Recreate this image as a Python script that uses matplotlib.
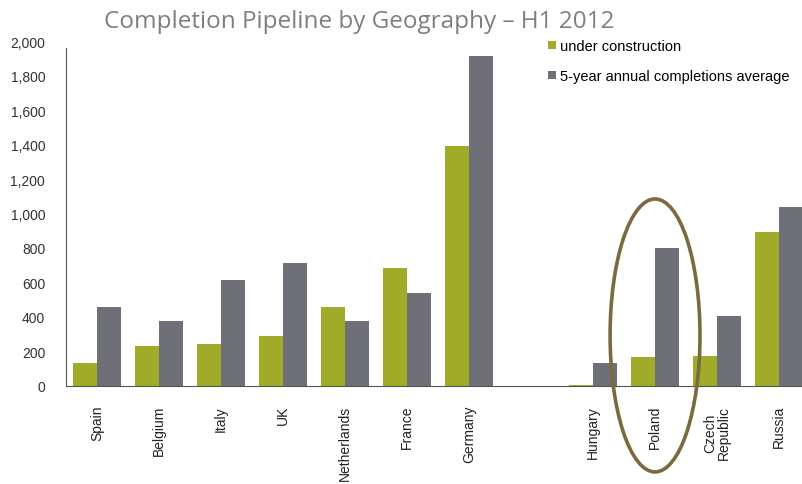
import matplotlib.pyplot as plt
from matplotlib.patches import Ellipse
from matplotlib.ticker import FuncFormatter

# values (sq m thousands, H1 2012)
countries = ["Spain", "Belgium", "Italy", "UK", "Netherlands", "France", "Germany",
             "", "Hungary", "Poland", "Czech\nRepublic", "Russia"]
under_construction = [129, 231, 241, 290, 458, 681, 1394, 0, 5, 164, 173, 894]
five_year_avg = [458, 377, 615, 710, 377, 536, 1917, 0, 129, 798, 406, 1036]
yticks = [0, 200, 400, 600, 800, 1000, 1200, 1400, 1600, 1800, 2000]

green = "#a0ab2a"
grey = "#6e6f77"
ring = "#7b6a3e"

fig = plt.figure(figsize=(8.02, 4.85), dpi=100)
ax = fig.add_axes([66 / 802, 98.5 / 485, 736 / 802, 344 / 485])

w = 0.39
x = list(range(len(countries)))
ax.bar([i - w / 2 for i in x], under_construction, width=w, color=green,
       label="under construction")
ax.bar([i + w / 2 for i in x], five_year_avg, width=w, color=grey,
       label="5-year annual completions average")

ax.set_xlim(-0.5, 11.37)
ax.set_ylim(0, 2000)
ax.set_yticks(yticks)
ax.yaxis.set_major_formatter(FuncFormatter(lambda v, p: f"{int(v):,}"))
ax.set_xticks(x)
ax.set_xticklabels(countries, rotation=90, va="top", ha="center",
                   fontsize=10, family="Liberation Sans", color="#222222",
                   linespacing=0.95)
for lab in ax.get_yticklabels():
    lab.set_family("Liberation Sans")
    lab.set_fontsize(10)
    lab.set_color("#333333")
ax.tick_params(axis="both", length=0)
ax.tick_params(axis="y", pad=15)
ax.tick_params(axis="x", pad=14)

for s in ["top", "right"]:
    ax.spines[s].set_visible(False)
ax.spines["left"].set_color("#555555")
ax.spines["bottom"].set_color("#555555")
ax.spines["left"].set_bounds(0, 1960)

# highlight Poland
poland = countries.index("Poland")
ax.add_patch(Ellipse((poland, 291), 1.45, 1587, fill=False, edgecolor=ring,
                     linewidth=2.6, clip_on=False, zorder=5))

leg = ax.legend(loc="upper left", bbox_to_anchor=(0.637, 1.045), frameon=False,
                prop={"family": "Liberation Sans", "size": 10.5},
                handlelength=0.55, handleheight=0.55, handletextpad=0.3,
                labelspacing=1.1)

fig.text(0.448, 0.954, "Completion Pipeline by Geography \u2013 H1 2012",
         ha="center", va="center", fontsize=17.5, color="#7f7f7f",
         family="Open Sans")

fig.savefig("out.png", dpi=100)
